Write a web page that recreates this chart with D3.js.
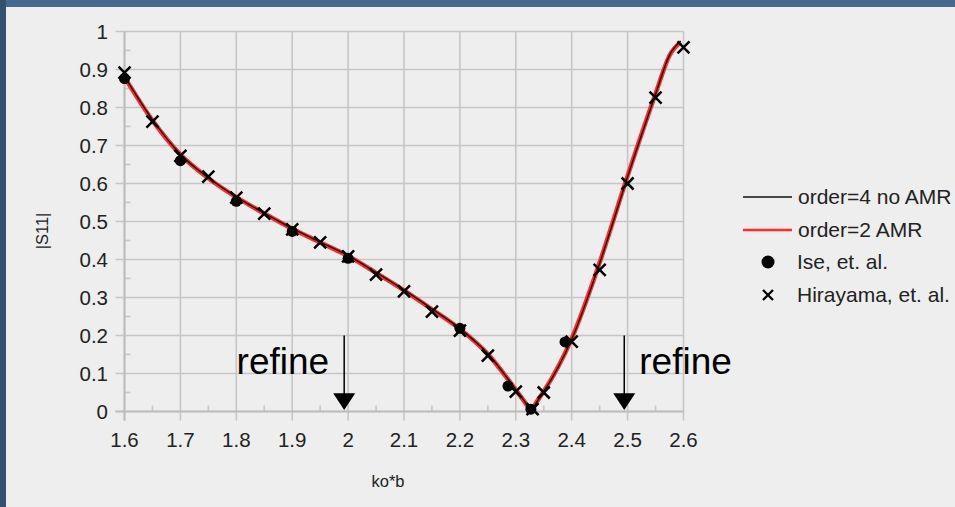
<!DOCTYPE html>
<html>
<head>
<meta charset="utf-8">
<script src="https://cdn.jsdelivr.net/npm/d3@7/dist/d3.min.js"></script>
<style>
html,body{margin:0;padding:0;background:#46698f;}
svg{display:block;}
text{font-family:"Liberation Sans",Arial,sans-serif;}
</style>
</head>
<body>
<svg id="chart" width="955" height="507"></svg>
<script>
// ---- data ----
const curveKb   = [1.6,1.65,1.7,1.75,1.8,1.85,1.9,1.95,2.0,2.05,2.1,2.15,2.2,2.25,2.3,2.316,2.327,2.338,2.35,2.4,2.45,2.5,2.55,2.575,2.595];
const order4    = [0.882,0.768,0.677,0.615,0.565,0.522,0.482,0.446,0.41,0.366,0.32,0.27,0.218,0.152,0.058,0.026,0.004,0.026,0.052,0.19,0.39,0.618,0.835,0.938,0.975];
const order2    = [0.880,0.766,0.676,0.614,0.564,0.521,0.481,0.445,0.409,0.365,0.319,0.269,0.217,0.151,0.057,0.025,0.004,0.027,0.053,0.192,0.392,0.62,0.836,0.937,0.972];
const iseKb     = [1.6,1.7,1.8,1.9,2.0,2.2,2.286,2.327,2.388];
const iseS11    = [0.876,0.66,0.553,0.474,0.403,0.219,0.067,0.006,0.183];
const hiraKb    = [1.6,1.65,1.7,1.75,1.8,1.85,1.9,1.95,2.0,2.05,2.1,2.15,2.2,2.25,2.3,2.33,2.35,2.4,2.45,2.5,2.55,2.6];
const hiraS11   = [0.892,0.763,0.673,0.618,0.563,0.521,0.479,0.445,0.408,0.36,0.316,0.263,0.213,0.147,0.052,0.006,0.05,0.184,0.373,0.6,0.826,0.958];
const xTicks    = [1.6,1.7,1.8,1.9,2.0,2.1,2.2,2.3,2.4,2.5,2.6];
const yTicks    = [0,0.1,0.2,0.3,0.4,0.5,0.6,0.7,0.8,0.9,1];
const refineKb  = [1.993,2.494];
const legendLabels = ["order=4 no AMR","order=2 AMR","Ise, et. al.","Hirayama, et. al."];

const svg = d3.select("#chart");
// background panel
svg.append("rect").attr("x",0).attr("y",0).attr("width",955).attr("height",507).attr("fill","#46698f");
svg.append("rect").attr("x",0).attr("y",0).attr("width",6).attr("height",507).attr("fill","#34506f");
svg.append("rect").attr("x",6).attr("y",7).attr("width",949).attr("height",500).attr("fill","#eeeeee");

const x = d3.scaleLinear().domain([1.6,2.6]).range([124.5,683.5]);
const y = d3.scaleLinear().domain([0,1]).range([411.5,31.5]);

const grid = svg.append("g");
const gridColor = "#c6c6c6";
grid.selectAll("line.vx").data(xTicks).join("line")
  .attr("x1",d=>x(d)).attr("x2",d=>x(d)).attr("y1",y(1)).attr("y2",y(0)+9)
  .attr("stroke",gridColor).attr("stroke-width",1.6);
grid.selectAll("line.hy").data(yTicks).join("line")
  .attr("x1",x(1.6)-9).attr("x2",x(2.6)).attr("y1",d=>y(d)).attr("y2",d=>y(d))
  .attr("stroke",gridColor).attr("stroke-width",1.6);
const xMinor = d3.range(10).map(i=>xTicks[i]+0.05);
const yMinor = d3.range(10).map(i=>yTicks[i]+0.05);
grid.selectAll("line.mx").data(xMinor).join("line")
  .attr("x1",d=>x(d)).attr("x2",d=>x(d)).attr("y1",y(0)).attr("y2",y(0)-6)
  .attr("stroke",gridColor).attr("stroke-width",1.6);
grid.selectAll("line.my").data(yMinor).join("line")
  .attr("x1",x(1.6)).attr("x2",x(1.6)+6).attr("y1",d=>y(d)).attr("y2",d=>y(d))
  .attr("stroke",gridColor).attr("stroke-width",1.6);
grid.append("line").attr("x1",x(1.6)-9).attr("x2",x(2.6)).attr("y1",y(0)).attr("y2",y(0)).attr("stroke","#bdbdbd").attr("stroke-width",2.2);
grid.append("line").attr("x1",x(1.6)).attr("x2",x(1.6)).attr("y1",y(1)).attr("y2",y(0)+9).attr("stroke","#bdbdbd").attr("stroke-width",2);

// tick labels
svg.selectAll("text.xt").data(xTicks).join("text")
  .attr("x",d=>x(d)).attr("y",447).attr("text-anchor","middle")
  .attr("font-size",20.5).attr("fill","#222").text(d=>+d.toFixed(1));
svg.selectAll("text.yt").data(yTicks).join("text")
  .attr("x",108).attr("y",d=>y(d)+7).attr("text-anchor","end")
  .attr("font-size",20.5).attr("fill","#222").text(d=>+d.toFixed(1));

// axis titles
svg.append("text").attr("x",388).attr("y",487).attr("text-anchor","middle").attr("font-size",16.5).attr("fill","#222").text("ko*b");
svg.append("text").attr("transform","translate(48,231) rotate(-90)").attr("text-anchor","middle").attr("font-size",16.5).attr("fill","#222").text("|S11|");

// curves
const line = d3.line().x(d=>x(d[0])).y(d=>y(d[1])).curve(d3.curveMonotoneX);
svg.append("path").datum(curveKb.map((k,i)=>[k,order2[i]])).attr("d",line)
  .attr("fill","none").attr("stroke","#ff2a2a").attr("stroke-width",4.5).attr("stroke-linejoin","round");
svg.append("path").datum(curveKb.map((k,i)=>[k,order4[i]])).attr("d",line)
  .attr("fill","none").attr("stroke","#111").attr("stroke-width",1.4).attr("stroke-linejoin","round");

// Ise circles
svg.selectAll("circle.ise").data(iseKb.map((k,i)=>[k,iseS11[i]])).join("circle")
  .attr("cx",d=>x(d[0])).attr("cy",d=>y(d[1])).attr("r",5.5).attr("fill","#000");

// Hirayama crosses
const cross = (g,cx,cy,s,w)=>{
  g.append("path").attr("d",`M${cx-s},${cy-s}L${cx+s},${cy+s}M${cx-s},${cy+s}L${cx+s},${cy-s}`)
   .attr("stroke","#000").attr("stroke-width",w).attr("fill","none");
};
const hg = svg.append("g");
hiraKb.forEach((k,i)=>cross(hg,x(k),y(hiraS11[i]),6,2.5));

// refine annotations
refineKb.forEach((k,i)=>{
  const ax = x(k);
  svg.append("line").attr("x1",ax).attr("x2",ax).attr("y1",y(0.2)).attr("y2",y(0.04))
    .attr("stroke","#000").attr("stroke-width",1.5);
  svg.append("path").attr("d",`M${ax-11},${y(0.048)}L${ax+11},${y(0.048)}L${ax},${y(0.004)}Z`).attr("fill","#000");
  svg.append("text").attr("x", i===0 ? ax-15 : ax+15).attr("y",374)
    .attr("text-anchor", i===0 ? "end" : "start").attr("font-size",37).attr("fill","#000").text("refine");
});

// legend
const lg = svg.append("g");
const rows = [197,230,262,295];
lg.append("line").attr("x1",743).attr("x2",792).attr("y1",rows[0]).attr("y2",rows[0]).attr("stroke","#111").attr("stroke-width",1.5);
lg.append("line").attr("x1",743).attr("x2",792).attr("y1",rows[1]).attr("y2",rows[1]).attr("stroke","#ff2a2a").attr("stroke-width",2.5);
lg.append("circle").attr("cx",768).attr("cy",rows[2]).attr("r",6.5).attr("fill","#000");
cross(lg,768,rows[3],5,2.3);
legendLabels.forEach((t,i)=>{
  lg.append("text").attr("x", i<2 ? 798 : 797).attr("y",rows[i]+7).attr("font-size",21).attr("fill","#222").text(t);
});
</script>
</body>
</html>
